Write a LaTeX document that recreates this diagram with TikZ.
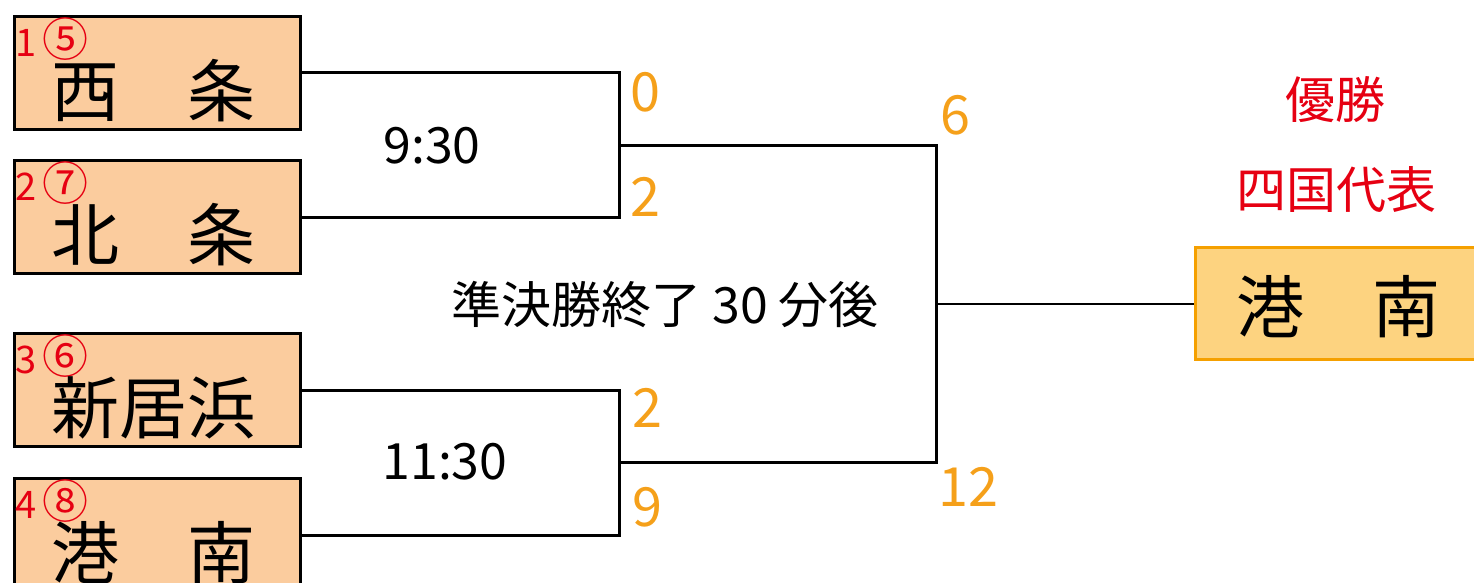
\documentclass[tikz,border=0pt]{standalone}
\usepackage{fontspec}
\setmainfont{Noto Sans CJK JP}
\definecolor{teamfill}{HTML}{FBCC9E}
\definecolor{winfill}{HTML}{FDD380}
\definecolor{windraw}{HTML}{F5A000}
\definecolor{seedred}{HTML}{E60012}
\definecolor{scoreorange}{HTML}{F5A01A}
\tikzset{
  teambox/.style={draw=black, line width=3pt, fill=teamfill, minimum width=286pt, minimum height=113pt, inner sep=0pt},
  winbox/.style={draw=windraw, line width=3pt, fill=winfill, minimum width=286pt, minimum height=112pt, inner sep=0pt},
  teamname/.style={inner sep=0pt, font=\fontsize{68pt}{68pt}\selectfont},
  seed/.style={inner sep=0pt, text=seedred, font=\fontsize{38pt}{38pt}\selectfont},
  score/.style={inner sep=0pt, text=scoreorange, font=\fontsize{54pt}{54pt}\selectfont},
  timetext/.style={inner sep=0pt, font=\fontsize{50pt}{50pt}\selectfont},
  redtext/.style={inner sep=0pt, text=seedred, font=\fontsize{50pt}{50pt}\selectfont},
  bracket/.style={draw=black, line width=3pt},
  final/.style={draw=black, line width=2pt}
}
\begin{document}
\begin{tikzpicture}[x=1pt,y=-1pt]
\useasboundingbox (0,0) rectangle (1474,583);
\clip (0,0) rectangle (1474,583);
\foreach \i/\c/\name/\top in {1/⑤/西　条/15, 2/⑦/北　条/159, 3/⑥/新居浜/332, 4/⑧/港　南/477} {
  \node[teambox, anchor=north west] (t\i) at (13,\top) {};
  \node[seed, anchor=west] (s\i) at ([xshift=2pt,yshift=-24pt]t\i.north west) {\i\,{\fontsize{46pt}{46pt}\selectfont\c}};
  \node[teamname] (n\i) at ([xshift=-4pt,yshift=-18pt]t\i.center) {\name};
}
\node[winbox, anchor=north west] (w) at (1194,246) {};
\node[teamname] (wn) at ([yshift=-3pt]w.center) {港　南};
\coordinate (j1) at (619,145);
\coordinate (j2) at (619,462);
\coordinate (jf) at (936,304);
\draw[bracket] (t1.east) -| (j1) |- (t2.east);
\draw[bracket] (t3.east) -| (j2) |- (t4.east);
\draw[bracket] (j1) -| (jf) |- (j2);
\draw[final] (jf) -- (jf -| w.west);
\node[timetext] (tm1) at (432,146) {9:30};
\node[timetext] (tm2) at (445,462) {11:30};
\node[timetext] (mid) at (665,304) {準決勝終了 30 分後};
\node[score] (sc1) at (645,92) {0};
\node[score] (sc2) at (645,197) {2};
\node[score] (sc3) at (647,408) {2};
\node[score] (sc4) at (647,507) {9};
\node[score] (sc5) at (955,115) {6};
\node[score] (sc6) at (968,487) {12};
\node[redtext] (yu) at (1335,100) {優勝};
\node[redtext] (dai) at (1336,190) {四国代表};
\end{tikzpicture}
\end{document}
